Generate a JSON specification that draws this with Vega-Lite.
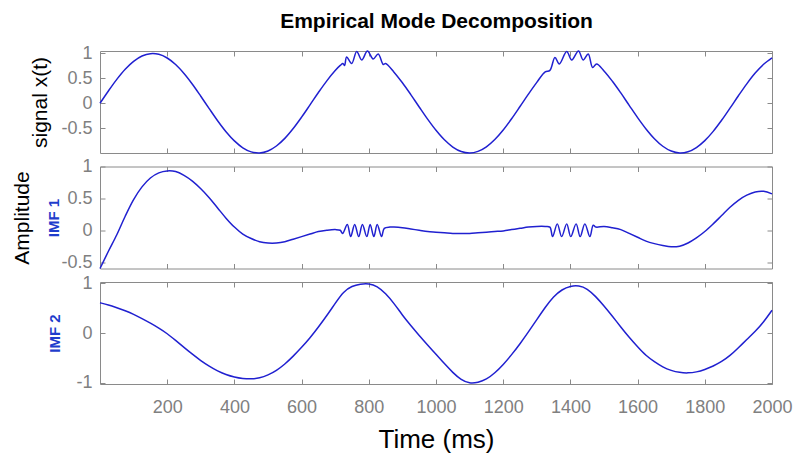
{
  "$schema": "https://vega.github.io/schema/vega-lite/v6.json",
  "autosize": {"type": "none"},
  "padding": {"left": 100, "top": 51, "right": 694, "bottom": 403},
  "background": "white",
  "title": {"text": "Empirical Mode Decomposition", "anchor": "middle", "fontSize": 21, "font": "Liberation Sans", "fontWeight": "bold", "color": "black", "offset": 12, "dx": 35},
  "config": {
    "view": {"stroke": "#8a8a8a", "strokeWidth": 1},
    "font": "Liberation Sans",
    "axis": {"grid": false, "domain": false, "labelFont": "Liberation Sans", "labelFontSize": 18, "labelColor": "#808080", "tickColor": "#8a8a8a", "tickSize": -5, "titleFont": "Liberation Sans", "titleFontWeight": "normal", "titleColor": "black", "labelFlush": false, "labelOverlap": false},
    "line": {"color": "#2020d0", "strokeWidth": 1.5, "interpolate": "catmull-rom"}
  },
  "bounds": "flush",
  "spacing": 13.5,
  "datasets": {
    "sig": [
      {"t":0,"v":0},{"t":25,"v":0.247},{"t":50,"v":0.479},{"t":75,"v":0.682},{"t":100,"v":0.841},{"t":125,"v":0.949},{"t":150,"v":0.997},{"t":175,"v":0.984},{"t":200,"v":0.909},{"t":225,"v":0.778},{"t":250,"v":0.598},{"t":275,"v":0.382},{"t":300,"v":0.141},{"t":325,"v":-0.108},{"t":350,"v":-0.351},{"t":375,"v":-0.572},{"t":400,"v":-0.757},{"t":425,"v":-0.895},{"t":450,"v":-0.978},{"t":475,"v":-0.999},{"t":500,"v":-0.959},{"t":525,"v":-0.859},{"t":550,"v":-0.706},{"t":575,"v":-0.508},{"t":600,"v":-0.279},{"t":625,"v":-0.033},{"t":650,"v":0.215},{"t":675,"v":0.45},{"t":700,"v":0.657},{"t":715,"v":0.76},{"t":723,"v":0.8},{"t":728,"v":0.76},{"t":734,"v":0.93},{"t":749,"v":0.8},{"t":764,"v":1.04},{"t":779,"v":0.87},{"t":796,"v":1.05},{"t":813,"v":0.89},{"t":828,"v":0.99},{"t":843,"v":0.78},{"t":850,"v":0.8},{"t":875,"v":0.625},{"t":900,"v":0.412},{"t":925,"v":0.174},{"t":950,"v":-0.075},{"t":975,"v":-0.32},{"t":1000,"v":-0.544},{"t":1025,"v":-0.735},{"t":1050,"v":-0.88},{"t":1075,"v":-0.97},{"t":1100,"v":-1.0},{"t":1125,"v":-0.968},{"t":1150,"v":-0.876},{"t":1175,"v":-0.729},{"t":1200,"v":-0.537},{"t":1225,"v":-0.311},{"t":1250,"v":-0.066},{"t":1275,"v":0.183},{"t":1300,"v":0.42},{"t":1325,"v":0.632},{"t":1339,"v":0.66},{"t":1354,"v":0.92},{"t":1367,"v":0.79},{"t":1389,"v":1.04},{"t":1404,"v":0.87},{"t":1424,"v":1.05},{"t":1438,"v":0.87},{"t":1453,"v":0.99},{"t":1466,"v":0.72},{"t":1478,"v":0.79},{"t":1500,"v":0.65},{"t":1525,"v":0.442},{"t":1550,"v":0.207},{"t":1575,"v":-0.042},{"t":1600,"v":-0.288},{"t":1625,"v":-0.516},{"t":1650,"v":-0.712},{"t":1675,"v":-0.864},{"t":1700,"v":-0.961},{"t":1725,"v":-1.0},{"t":1750,"v":-0.976},{"t":1775,"v":-0.891},{"t":1800,"v":-0.751},{"t":1825,"v":-0.565},{"t":1850,"v":-0.343},{"t":1875,"v":-0.099},{"t":1900,"v":0.15},{"t":1925,"v":0.39},{"t":1950,"v":0.606},{"t":1975,"v":0.784},{"t":2000,"v":0.913}
    ],
    "imf1": [
      {"t":0,"v":-0.6},{"t":25,"v":-0.33},{"t":50,"v":-0.07},{"t":75,"v":0.22},{"t":100,"v":0.48},{"t":125,"v":0.68},{"t":150,"v":0.82},{"t":175,"v":0.9},{"t":200,"v":0.93},{"t":225,"v":0.92},{"t":250,"v":0.86},{"t":275,"v":0.77},{"t":300,"v":0.65},{"t":325,"v":0.51},{"t":350,"v":0.35},{"t":375,"v":0.19},{"t":400,"v":0.05},{"t":425,"v":-0.06},{"t":450,"v":-0.13},{"t":475,"v":-0.18},{"t":500,"v":-0.2},{"t":525,"v":-0.2},{"t":550,"v":-0.18},{"t":575,"v":-0.14},{"t":600,"v":-0.1},{"t":625,"v":-0.06},{"t":650,"v":-0.02},{"t":675,"v":0.0},{"t":700,"v":0.01},{"t":715,"v":0.0},{"t":722,"v":-0.05},{"t":736,"v":0.09},{"t":746,"v":-0.1},{"t":758,"v":0.09},{"t":770,"v":-0.1},{"t":781,"v":0.09},{"t":794,"v":-0.1},{"t":804,"v":0.09},{"t":815,"v":-0.1},{"t":825,"v":0.09},{"t":838,"v":-0.1},{"t":846,"v":0.03},{"t":863,"v":0.05},{"t":875,"v":0.05},{"t":900,"v":0.04},{"t":925,"v":0.02},{"t":950,"v":0.0},{"t":975,"v":-0.02},{"t":1000,"v":-0.03},{"t":1025,"v":-0.04},{"t":1050,"v":-0.05},{"t":1075,"v":-0.05},{"t":1100,"v":-0.05},{"t":1125,"v":-0.04},{"t":1150,"v":-0.03},{"t":1175,"v":-0.02},{"t":1200,"v":-0.01},{"t":1225,"v":0.01},{"t":1250,"v":0.03},{"t":1275,"v":0.05},{"t":1300,"v":0.06},{"t":1325,"v":0.06},{"t":1339,"v":0.05},{"t":1347,"v":-0.1},{"t":1361,"v":0.1},{"t":1374,"v":-0.1},{"t":1389,"v":0.1},{"t":1401,"v":-0.1},{"t":1417,"v":0.1},{"t":1429,"v":-0.1},{"t":1443,"v":0.1},{"t":1458,"v":-0.1},{"t":1468,"v":0.08},{"t":1476,"v":0.05},{"t":1500,"v":0.06},{"t":1525,"v":0.04},{"t":1550,"v":0.01},{"t":1575,"v":-0.05},{"t":1600,"v":-0.11},{"t":1625,"v":-0.17},{"t":1650,"v":-0.21},{"t":1675,"v":-0.24},{"t":1700,"v":-0.26},{"t":1725,"v":-0.25},{"t":1750,"v":-0.2},{"t":1775,"v":-0.12},{"t":1800,"v":-0.02},{"t":1825,"v":0.1},{"t":1850,"v":0.23},{"t":1875,"v":0.36},{"t":1900,"v":0.47},{"t":1925,"v":0.55},{"t":1950,"v":0.6},{"t":1975,"v":0.61},{"t":2000,"v":0.57}
    ],
    "imf2": [
      {"t":0,"v":0.61},{"t":25,"v":0.57},{"t":50,"v":0.51},{"t":75,"v":0.45},{"t":100,"v":0.38},{"t":125,"v":0.29},{"t":150,"v":0.2},{"t":175,"v":0.1},{"t":200,"v":-0.01},{"t":225,"v":-0.15},{"t":250,"v":-0.29},{"t":275,"v":-0.43},{"t":300,"v":-0.56},{"t":325,"v":-0.67},{"t":350,"v":-0.77},{"t":375,"v":-0.84},{"t":400,"v":-0.89},{"t":425,"v":-0.92},{"t":450,"v":-0.93},{"t":475,"v":-0.91},{"t":500,"v":-0.85},{"t":525,"v":-0.76},{"t":550,"v":-0.63},{"t":575,"v":-0.47},{"t":600,"v":-0.29},{"t":625,"v":-0.1},{"t":650,"v":0.12},{"t":675,"v":0.35},{"t":700,"v":0.6},{"t":725,"v":0.84},{"t":750,"v":0.95},{"t":775,"v":0.99},{"t":800,"v":1.0},{"t":825,"v":0.95},{"t":850,"v":0.8},{"t":875,"v":0.6},{"t":900,"v":0.36},{"t":925,"v":0.15},{"t":950,"v":-0.05},{"t":975,"v":-0.24},{"t":1000,"v":-0.43},{"t":1025,"v":-0.62},{"t":1050,"v":-0.8},{"t":1075,"v":-0.95},{"t":1100,"v":-1.02},{"t":1125,"v":-1.0},{"t":1150,"v":-0.94},{"t":1175,"v":-0.81},{"t":1200,"v":-0.64},{"t":1225,"v":-0.44},{"t":1250,"v":-0.22},{"t":1275,"v":0.02},{"t":1300,"v":0.27},{"t":1325,"v":0.52},{"t":1350,"v":0.74},{"t":1375,"v":0.88},{"t":1400,"v":0.95},{"t":1425,"v":0.96},{"t":1450,"v":0.9},{"t":1475,"v":0.74},{"t":1500,"v":0.55},{"t":1525,"v":0.34},{"t":1550,"v":0.12},{"t":1575,"v":-0.09},{"t":1600,"v":-0.28},{"t":1625,"v":-0.46},{"t":1650,"v":-0.58},{"t":1675,"v":-0.69},{"t":1700,"v":-0.76},{"t":1725,"v":-0.8},{"t":1750,"v":-0.81},{"t":1775,"v":-0.79},{"t":1800,"v":-0.74},{"t":1825,"v":-0.67},{"t":1850,"v":-0.58},{"t":1875,"v":-0.46},{"t":1900,"v":-0.3},{"t":1925,"v":-0.13},{"t":1950,"v":0.03},{"t":1975,"v":0.22},{"t":2000,"v":0.46}
    ]
  },
  "vconcat": [
    {
      "width": 672, "height": 102,
      "data": {"name": "sig"},
      "layer": [
        {"mark": {"type": "line"}, "encoding": {
          "x": {"field": "t", "type": "quantitative", "scale": {"domain": [0, 2000], "nice": false, "zero": false}, "axis": {"orient": "bottom", "values": [200,400,600,800,1000,1200,1400,1600,1800,2000], "labels": false, "title": null}},
          "y": {"field": "v", "type": "quantitative", "scale": {"domain": [-1, 1.05], "nice": false, "zero": false}, "axis": {"orient": "left", "values": [-0.5, 0, 0.5, 1], "labelPadding": 13, "labelExpr": "datum.value < 0 ? '-' + format(-datum.value, '~g') : format(datum.value, '~g')", "title": "signal x(t)", "titleFontSize": 21, "titleX": -60, "titleY": 51, "titleAngle": -90, "titleBaseline": "middle", "titleAlign": "center"}}
        }},
        {"mark": {"type": "line", "opacity": 0}, "encoding": {
          "x": {"field": "t", "type": "quantitative", "axis": {"orient": "top", "values": [200,400,600,800,1000,1200,1400,1600,1800,2000], "labels": false, "title": null}},
          "y": {"field": "v", "type": "quantitative", "axis": {"orient": "right", "values": [-0.5, 0, 0.5, 1], "labels": false, "title": null}}
        }}
      ],
      "resolve": {"axis": {"x": "independent", "y": "independent"}}
    },
    {
      "width": 672, "height": 102,
      "data": {"name": "imf1"},
      "layer": [
        {"mark": {"type": "line"}, "encoding": {
          "x": {"field": "t", "type": "quantitative", "scale": {"domain": [0, 2000], "nice": false, "zero": false}, "axis": {"orient": "bottom", "values": [200,400,600,800,1000,1200,1400,1600,1800,2000], "labels": false, "title": null}},
          "y": {"field": "v", "type": "quantitative", "scale": {"domain": [-0.6, 1.0], "nice": false, "zero": false}, "axis": {"orient": "left", "values": [-0.5, 0, 0.5, 1], "labelPadding": 13, "labelExpr": "datum.value < 0 ? '-' + format(-datum.value, '~g') : format(datum.value, '~g')", "title": "IMF 1", "titleFontSize": 15, "titleFontWeight": "bold", "titleColor": "#1f3dcc", "titleX": -47, "titleY": 51, "titleAngle": -90, "titleBaseline": "middle", "titleAlign": "center"}}
        }},
        {"mark": {"type": "line", "opacity": 0}, "encoding": {
          "x": {"field": "t", "type": "quantitative", "axis": {"orient": "top", "values": [200,400,600,800,1000,1200,1400,1600,1800,2000], "labels": false, "title": null}},
          "y": {"field": "v", "type": "quantitative", "axis": {"orient": "right", "values": [-0.5, 0, 0.5, 1], "labels": false, "title": null}}
        }},
        {"mark": {"type": "line", "opacity": 0}, "encoding": {
          "x": {"field": "t", "type": "quantitative", "axis": null},
          "y": {"field": "v", "type": "quantitative", "axis": {"orient": "left", "labels": false, "ticks": false, "title": "Amplitude", "titleFontSize": 21, "titleX": -78, "titleY": 51, "titleAngle": -90, "titleBaseline": "middle", "titleAlign": "center"}}
        }}
      ],
      "resolve": {"axis": {"x": "independent", "y": "independent"}}
    },
    {
      "width": 672, "height": 102,
      "data": {"name": "imf2"},
      "layer": [
        {"mark": {"type": "line", "interpolate": "basis"}, "encoding": {
          "x": {"field": "t", "type": "quantitative", "scale": {"domain": [0, 2000], "nice": false, "zero": false}, "axis": {"orient": "bottom", "values": [200,400,600,800,1000,1200,1400,1600,1800,2000], "format": "d", "labelPadding": 19, "title": "Time (ms)", "titleFontSize": 26, "titlePadding": 10}},
          "y": {"field": "v", "type": "quantitative", "scale": {"domain": [-1.03, 1.03], "nice": false, "zero": false}, "axis": {"orient": "left", "values": [-1, 0, 1], "labelPadding": 13, "labelExpr": "datum.value < 0 ? '-' + format(-datum.value, '~g') : format(datum.value, '~g')", "title": "IMF 2", "titleFontSize": 15, "titleFontWeight": "bold", "titleColor": "#1f3dcc", "titleX": -46, "titleY": 51, "titleAngle": -90, "titleBaseline": "middle", "titleAlign": "center"}}
        }},
        {"mark": {"type": "line", "opacity": 0}, "encoding": {
          "x": {"field": "t", "type": "quantitative", "axis": {"orient": "top", "values": [200,400,600,800,1000,1200,1400,1600,1800,2000], "labels": false, "title": null}},
          "y": {"field": "v", "type": "quantitative", "axis": {"orient": "right", "values": [-1, 0, 1], "labels": false, "title": null}}
        }}
      ],
      "resolve": {"axis": {"x": "independent", "y": "independent"}}
    }
  ]
}
